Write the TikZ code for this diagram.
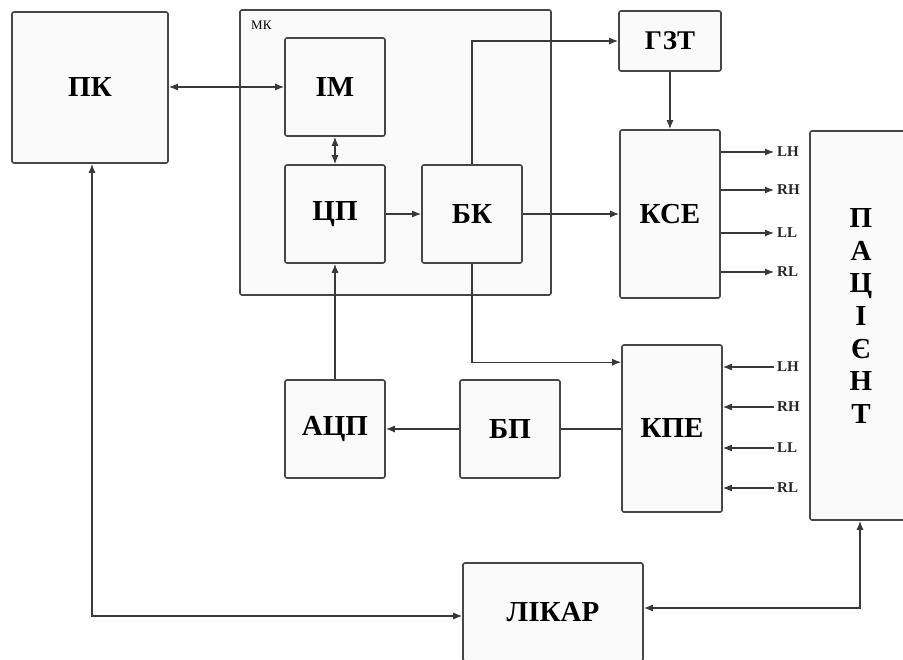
\documentclass[tikz,border=0pt]{standalone}
\usepackage{fontspec}
\setmainfont{Liberation Serif}
\usetikzlibrary{arrows.meta}
\tikzset{
  blk/.style={draw=gray!55!black, line width=1.6pt, fill=gray!4, rounded corners=2pt,
    font=\fontsize{29}{32}\selectfont\bfseries, inner sep=0pt},
  con/.style={draw=gray!45!black, line width=1.2pt},
  arr/.style={con, -{Latex[length=9pt,width=7pt]}},
  biarr/.style={con, {Latex[length=9pt,width=7pt]}-{Latex[length=9pt,width=7pt]}},
  pin/.style={font=\fontsize{15}{17}\selectfont\bfseries, inner sep=3pt, text=gray!30!black}
}
\begin{document}
\begin{tikzpicture}[x=1pt, y=-1pt]
\useasboundingbox (0,0) rectangle (903,660);
% microcontroller frame
\node[blk, minimum width=311pt, minimum height=285pt] (mk) at (395.5,152.5) {};
\node[font=\fontsize{13}{15}\selectfont, anchor=north west, inner sep=0pt] (mklbl) at (251,21) {МК};
% blocks
\node[blk, minimum width=156pt, minimum height=151pt] (pk) at (90,87.5) {ПК};
\node[blk, minimum width=100pt, minimum height=98pt] (im) at (335,87) {ІМ};
\node[blk, minimum width=100pt, minimum height=98pt] (cp) at (335,214) {ЦП};
\node[blk, minimum width=100pt, minimum height=98pt] (bk) at (472,214) {БК};
\node[blk, minimum width=102pt, minimum height=60pt, font=\fontsize{27}{30}\selectfont\bfseries] (gzt) at (670,41) {ГЗТ};
\node[blk, minimum width=100pt, minimum height=168pt] (kse) at (670,214) {КСЕ};
\node[blk, minimum width=100pt, minimum height=167pt] (kpe) at (672,428.5) {КПЕ};
\node[blk, minimum width=100pt, minimum height=98pt] (adc) at (335,429) {АЦП};
\node[blk, minimum width=100pt, minimum height=98pt] (bp) at (510,429) {БП};
\node[blk, minimum width=180pt, minimum height=98pt] (likar) at (553,612) {ЛІКАР};
\node[blk, minimum width=100pt, minimum height=389pt] (pac) at (860,325.5) {};
\node[font=\fontsize{29}{32.7}\selectfont\bfseries, align=center, inner sep=0pt] (pactxt) at (861,316) {П\\А\\Ц\\І\\Є\\Н\\Т};
% links inside and around MK
\draw[biarr] (pk.east |- im) -- (im.west);
\draw[biarr] (im.south) -- (cp.north);
\draw[arr] (cp.east) -- (bk.west);
\draw[arr] (bk.north) |- (gzt.west);
\draw[arr] (gzt.south) -- (kse.north);
\draw[arr] (bk.east) -- (kse.west);
\draw[arr] (bk.south) |- ([yshift=-18pt]kpe.north west);
\draw[con] (kpe.west |- bp) -- (bp.east);
\draw[arr] (bp.west) -- (adc.east);
\draw[arr] (adc.north) -- (cp.south);
% electrodes
\foreach \lbl/\yy [count=\i] in {LH/152,RH/190,LL/233,RL/272}{
  \node[pin, anchor=west] (out\i) at (774,\yy) {\lbl};
  \draw[arr] (kse.east |- out\i) -- (out\i.west);
}
\foreach \lbl/\yy [count=\i] in {LH/367,RH/407,LL/448,RL/488}{
  \node[pin, anchor=west] (in\i) at (774,\yy) {\lbl};
  \draw[arr] (in\i.west) -- (kpe.east |- in\i);
}
% doctor
\coordinate (pkdown) at (92,616);
\draw[biarr] ([xshift=2pt]pk.south) |- (likar.west |- pkdown);
\draw[biarr] (likar.east |- 0,608) -| (pac.south);
\end{tikzpicture}
\end{document}
